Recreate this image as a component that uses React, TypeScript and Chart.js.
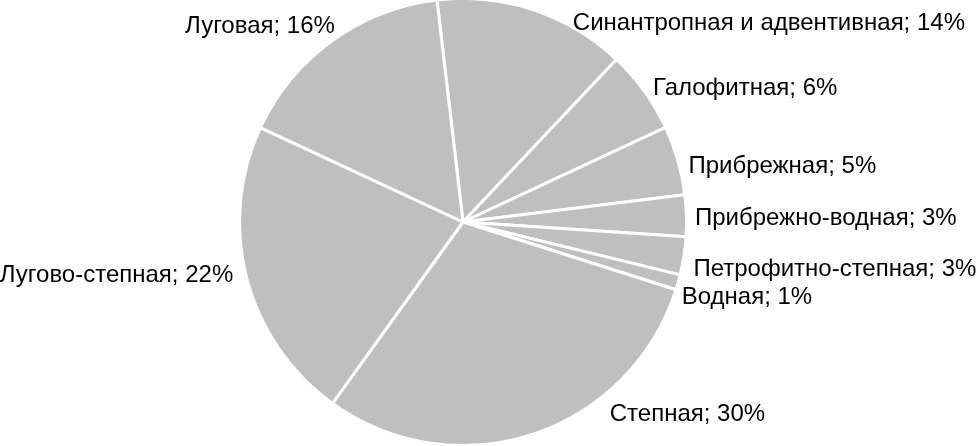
import React, { useEffect, useRef } from "react";
import { Chart, registerables } from "chart.js";

Chart.register(...registerables);

const categories = [
  "Синантропная и адвентивная",
  "Галофитная",
  "Прибрежная",
  "Прибрежно-водная",
  "Петрофитно-степная",
  "Водная",
  "Степная",
  "Лугово-степная",
  "Луговая",
];
const shares = [13.9, 6.0, 5.0, 3.0, 2.75, 1.1, 30.0, 22.0, 16.2];

// label layout nudges (px) relative to the slice's outer mid-point
const labelNudge: [number, number][] = [
  [40, 12],
  [10, -4],
  [12, 6],
  [10, 3],
  [11, 14],
  [5, 15],
  [77, -18],
  [-15, -3],
  [2, -16],
];

const labelPlugin = {
  id: "outerLabels",
  afterDatasetsDraw(chart: any) {
    const ctx = chart.ctx;
    const meta = chart.getDatasetMeta(0);
    ctx.save();
    ctx.font = '24px "Liberation Sans", Arial, sans-serif';
    ctx.fillStyle = "#000000";
    ctx.textBaseline = "middle";
    meta.data.forEach((arc: any, i: number) => {
      const p = arc.getProps(["x", "y", "startAngle", "endAngle", "outerRadius"], true);
      const mid = (p.startAngle + p.endAngle) / 2;
      const r = p.outerRadius - 1.5;
      const ax = p.x + Math.cos(mid) * r + labelNudge[i][0];
      const ay = p.y + Math.sin(mid) * r + labelNudge[i][1];
      ctx.textAlign = Math.cos(mid) >= 0 ? "left" : "right";
      const text = `${categories[i]}; ${Math.round(shares[i])}%`;
      ctx.fillText(text, ax, ay);
    });
    ctx.restore();
  },
};

export default function App() {
  const ref = useRef<HTMLCanvasElement | null>(null);
  useEffect(() => {
    document.body.style.margin = "0";
    const c = ref.current;
    if (!c) return;
    const chart = new Chart(c, {
      type: "pie",
      data: {
        labels: categories,
        datasets: [
          {
            data: shares,
            backgroundColor: "#bfbfbf",
            borderColor: "#ffffff",
            borderWidth: 3,
            radius: 223.5,
          } as any,
        ],
      },
      options: {
        animation: false,
        responsive: false,
        maintainAspectRatio: false,
        events: [],
        rotation: -6.7,
        layout: { padding: { left: 0, right: 51, top: 0, bottom: 2 } },
        plugins: {
          legend: { display: false },
          tooltip: { enabled: false },
        },
      },
      plugins: [labelPlugin],
    });
    return () => chart.destroy();
  }, []);
  return (
    <div style={{ width: 977, height: 446, background: "#ffffff" }}>
      <canvas ref={ref} width={977} height={446} style={{ width: 977, height: 446 }} />
    </div>
  );
}
